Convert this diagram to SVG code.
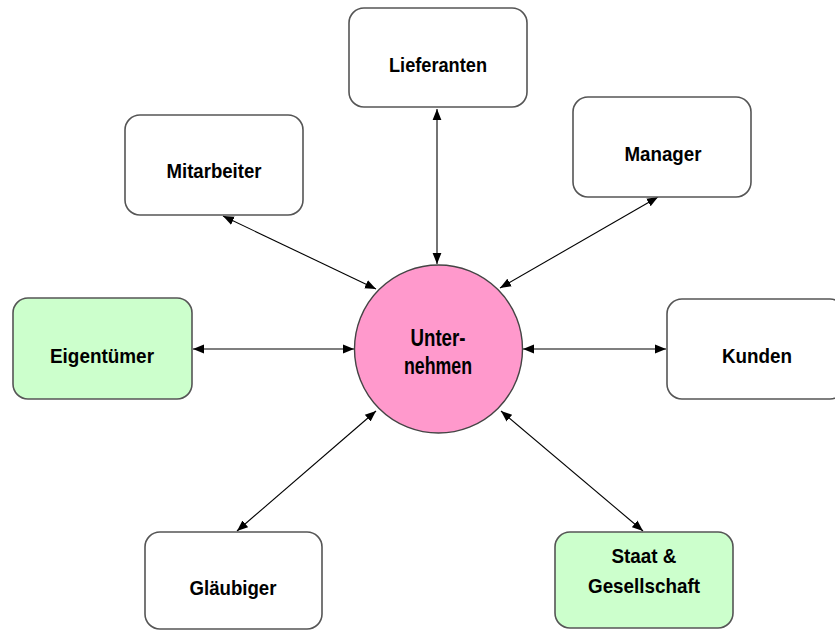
<svg xmlns="http://www.w3.org/2000/svg" width="835" height="630" viewBox="0 0 835 630">
<style>
.box{fill:#ffffff;stroke:#555555;stroke-width:1.6}
.green{fill:#ccffcc}
.lbl{font-family:"Liberation Sans",Arial,sans-serif;font-weight:bold;font-size:21px;fill:#000000;text-anchor:middle}
.big{font-size:24px}
.conn{stroke:#000000;stroke-width:1.1;fill:none;marker-start:url(#ah);marker-end:url(#ah)}
</style>
<defs>
<marker id="ah" viewBox="0 0 10 10" refX="10" refY="5" markerWidth="11" markerHeight="11" markerUnits="userSpaceOnUse" orient="auto-start-reverse">
<path d="M0,1 L10,5 L0,9 Z" fill="#000000"/>
</marker>
</defs>
<rect width="835" height="630" fill="#ffffff"/>
<g id="connectors">
<line class="conn" x1="437" y1="109" x2="437" y2="264"/>
<line class="conn" x1="223" y1="216" x2="376" y2="289"/>
<line class="conn" x1="658" y1="197" x2="500" y2="288"/>
<line class="conn" x1="193" y1="349" x2="354" y2="349"/>
<line class="conn" x1="523" y1="349" x2="666" y2="349"/>
<line class="conn" x1="237" y1="531" x2="376" y2="411"/>
<line class="conn" x1="643" y1="531" x2="501" y2="411"/>
</g>
<g id="unternehmen">
<circle cx="438.5" cy="349" r="84" fill="#ff99cc" stroke="#444444" stroke-width="1.4"/>
<text class="lbl big" x="438" y="346" textLength="55" lengthAdjust="spacingAndGlyphs">Unter-</text>
<text class="lbl big" x="438" y="374" textLength="68" lengthAdjust="spacingAndGlyphs">nehmen</text>
</g>
<g id="lieferanten">
<rect class="box" x="349" y="8" width="178" height="99" rx="15"/>
<text class="lbl" x="438" y="72" textLength="98" lengthAdjust="spacingAndGlyphs">Lieferanten</text>
</g>
<g id="manager">
<rect class="box" x="573" y="97" width="178" height="100" rx="15"/>
<text class="lbl" x="663" y="161" textLength="77" lengthAdjust="spacingAndGlyphs">Manager</text>
</g>
<g id="mitarbeiter">
<rect class="box" x="125" y="115" width="178" height="100" rx="15"/>
<text class="lbl" x="214" y="178" textLength="95" lengthAdjust="spacingAndGlyphs">Mitarbeiter</text>
</g>
<g id="eigentuemer">
<rect class="box green" x="13" y="298" width="179" height="101" rx="15"/>
<text class="lbl" x="102" y="363" textLength="104" lengthAdjust="spacingAndGlyphs">Eigentümer</text>
</g>
<g id="kunden">
<rect class="box" x="667" y="299" width="178" height="100" rx="15"/>
<text class="lbl" x="757" y="363" textLength="70" lengthAdjust="spacingAndGlyphs">Kunden</text>
</g>
<g id="glaeubiger">
<rect class="box" x="145" y="532" width="177" height="97" rx="15"/>
<text class="lbl" x="233" y="595" textLength="87" lengthAdjust="spacingAndGlyphs">Gläubiger</text>
</g>
<g id="staat">
<rect class="box green" x="555" y="532" width="178" height="96" rx="15"/>
<text class="lbl" x="644" y="563" textLength="65" lengthAdjust="spacingAndGlyphs">Staat &amp;</text>
<text class="lbl" x="644" y="593" textLength="112" lengthAdjust="spacingAndGlyphs">Gesellschaft</text>
</g>
</svg>
